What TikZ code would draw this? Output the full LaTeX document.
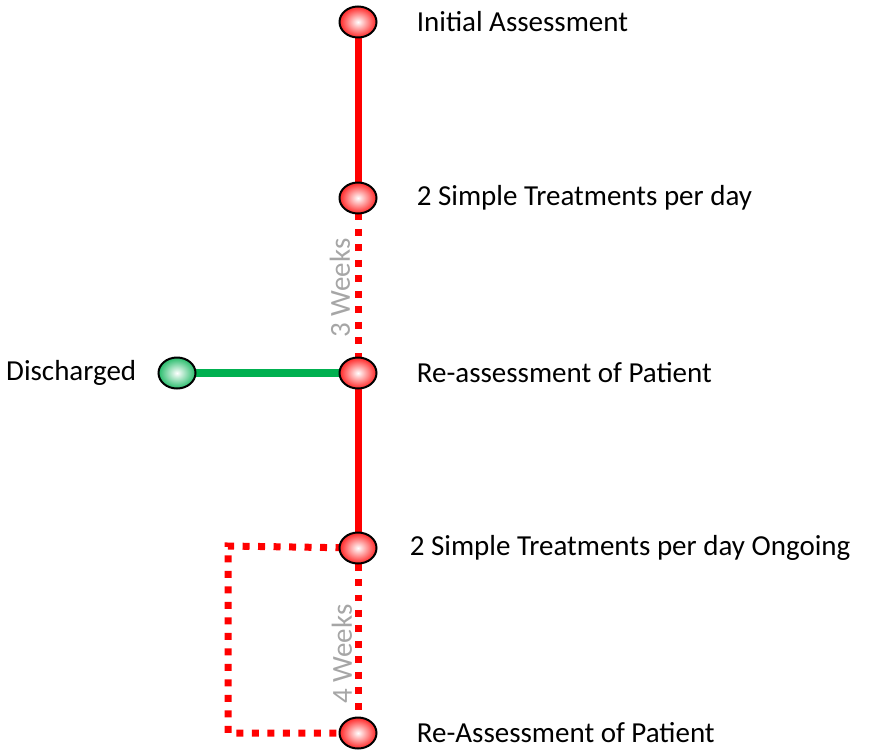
\documentclass[tikz,border=0pt]{standalone}
\usepackage{fontspec}
\setmainfont{Carlito}
\usetikzlibrary{positioning,shapes.geometric}

\definecolor{trackred}{RGB}{255,0,0}
\definecolor{trackgreen}{RGB}{0,176,80}
\definecolor{weekgray}{RGB}{166,166,166}

\begin{document}
\begin{tikzpicture}[
    x=0.02cm, y=-0.02cm,
    node distance=0.78cm,
    station/.style={ellipse, draw=black, line width=0.04cm, minimum width=0.74cm, minimum height=0.62cm, inner sep=0pt, inner color=white, outer color=trackred!85},
    endstation/.style={station, outer color=trackgreen!85},
    stopname/.style={font=\fontsize{16.5}{19}\selectfont, anchor=west, inner sep=0pt},
    weeks/.style={font=\fontsize{16.5}{19}\selectfont, text=weekgray, rotate=90, inner sep=0pt},
    track/.style={trackred, line width=0.14cm},
    gap/.style={trackred, line width=0.14cm, dash pattern=on 0.14cm off 0.17cm},
    exit/.style={trackgreen, line width=0.16cm}
]
\useasboundingbox (0,0) rectangle (871,750);

% Stations on the main line
\coordinate (s1) at (358,22);
\coordinate (s2) at (358,198);
\coordinate (s3) at (358,373);
\coordinate (s4) at (358,548);
\coordinate (s5) at (358,733);
\coordinate (dis) at (177,373);

% Tracks
\draw[track] (s1) -- (s2);
\draw[gap] (s2) -- (s3);
\draw[track] (s3) -- (s4);
\draw[gap] (s4) -- (s5);
\draw[exit] (dis) -- (s3);

% Loop back
\coordinate (loopa) at (228,546);
\coordinate (loopb) at (228,733);
\draw[gap] (s4) -- (loopa) -- (loopb) -- (s5);

% Station circles
\node[station] (init) at (s1) {};
\node[station] (treat) at (s2) {};
\node[station] (reass) at (s3) {};
\node[station] (ongo) at (s4) {};
\node[station] (reass2) at (s5) {};
\node[endstation] (disch) at (dis) {};

% Names
\node[stopname, right=of init] {Initial Assessment};
\node[stopname, right=of treat] {2 Simple Treatments per day};
\node[stopname, right=of reass] {Re-assessment of Patient};
\node[stopname, right=0.64cm of ongo] {2 Simple Treatments per day Ongoing};
\node[stopname, right=of reass2] {Re-Assessment of Patient};
\node[stopname, anchor=east, left=0.42cm of disch] {Discharged};

% Durations
\node[weeks] (w3) at (340,288) {3 Weeks};
\node[weeks] (w4) at (342,654) {4 Weeks};

\end{tikzpicture}
\end{document}
